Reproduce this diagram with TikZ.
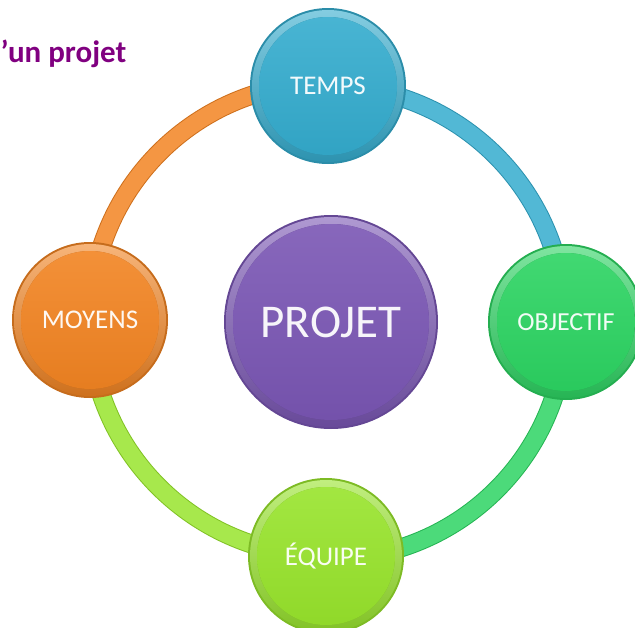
\documentclass[tikz,border=0pt]{standalone}
\usepackage{fontspec}
\setmainfont{Carlito}
\usetikzlibrary{backgrounds}
\definecolor{ctemps}{RGB}{52,172,206}
\definecolor{cmoy}{RGB}{242,132,34}
\definecolor{cobj}{RGB}{44,212,98}
\definecolor{cequ}{RGB}{152,228,44}
\definecolor{cproj}{RGB}{122,86,180}
\definecolor{ctitle}{RGB}{128,0,128}
\tikzset{
  disc/.style 2 args={circle, inner sep=0pt, minimum size={2*#1pt}, text=white!94!#2,
    fill=#2!82!black,
    path picture={
      \fill[top color=#2!60!white, bottom color=#2!85!black]
        (path picture bounding box.center) circle[radius=#1-2];
      \fill[top color=#2!90!white, bottom color=#2!95!black]
        (path picture bounding box.center) circle[radius=#1-9];
    }},
  lbl/.style={font=\fontsize{27}{29}\selectfont},
  ringouter/.style={line width=19pt, draw=#1!85!black},
  ringinner/.style={line width=17pt, draw=#1!85!white},
}
\begin{document}
\begin{tikzpicture}[x=1pt,y=-1pt]
\useasboundingbox (0,0) rectangle (635,627);
\node[anchor=base west, text=ctitle, font=\bfseries\fontsize{31}{33}\selectfont] (title) at (-3,62) {’un projet};
\node[disc={78}{ctemps}, lbl] (temps) at (328,86) {TEMPS};
\node[disc={78}{cmoy}, lbl] (moy) at (90,320) {MOYENS};
\node[disc={78}{cobj}, font=\fontsize{26}{28}\selectfont] (obj) at (566,322) {OBJECTIF};
\node[disc={78}{cequ}, lbl] (equ) at (326,556) {ÉQUIPE};
\node[disc={107}{cproj}, font=\fontsize{47}{49}\selectfont] (proj) at (331,322) {PROJET};
\begin{scope}[on background layer]
  \draw[ringouter=cmoy] (moy.center) arc[start angle=180, end angle=270, radius=237];
  \draw[ringinner=cmoy] (moy.center) arc[start angle=180, end angle=270, radius=237];
  \draw[ringouter=ctemps] (temps.center) arc[start angle=270, end angle=360, radius=237];
  \draw[ringinner=ctemps] (temps.center) arc[start angle=270, end angle=360, radius=237];
  \draw[ringouter=cobj] (obj.center) arc[start angle=0, end angle=90, radius=237];
  \draw[ringinner=cobj] (obj.center) arc[start angle=0, end angle=90, radius=237];
  \draw[ringouter=cequ] (equ.center) arc[start angle=90, end angle=180, radius=237];
  \draw[ringinner=cequ] (equ.center) arc[start angle=90, end angle=180, radius=237];
\end{scope}
\end{tikzpicture}
\end{document}
